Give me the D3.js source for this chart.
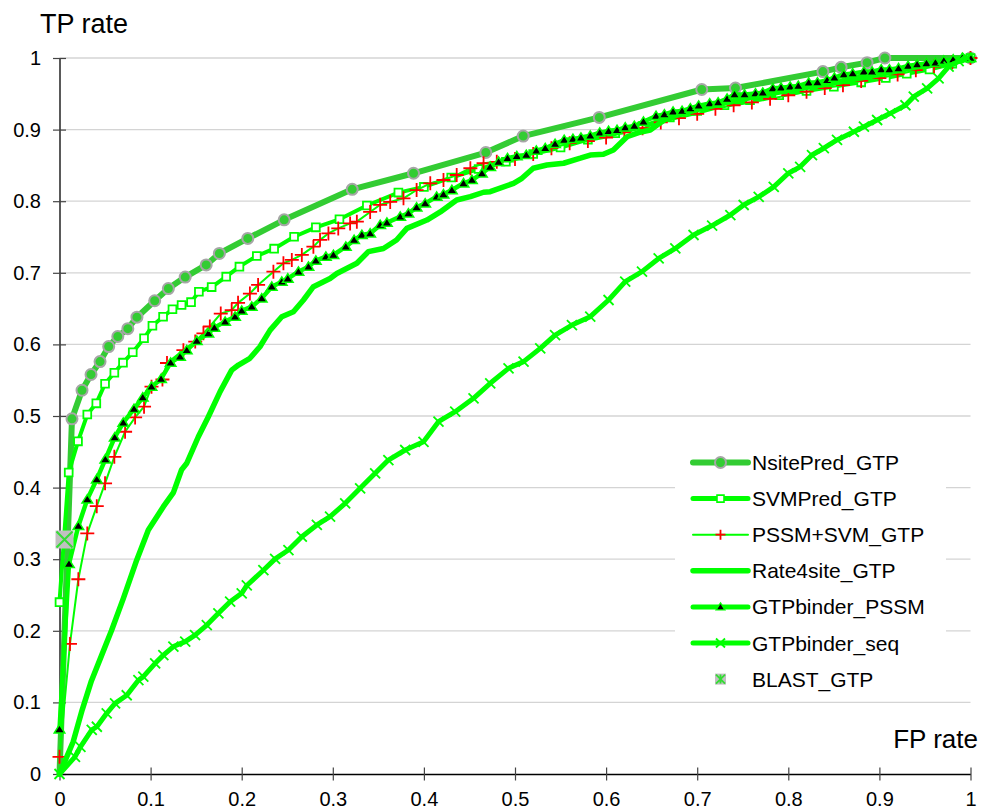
<!DOCTYPE html>
<html>
<head>
<meta charset="utf-8">
<script src="https://cdn.jsdelivr.net/npm/d3@7"></script>
<style>
  html, body { margin: 0; padding: 0; background: #fff; }
  svg { display: block; font-family: "Liberation Sans", Arial, sans-serif; }
</style>
</head>
<body>
<svg id="chart" width="987" height="809"></svg>
<script>
// ---------------- DATA ----------------
const xTickValues = [0, 0.1, 0.2, 0.3, 0.4, 0.5, 0.6, 0.7, 0.8, 0.9, 1];
const xTickLabels = ["0", "0.1", "0.2", "0.3", "0.4", "0.5", "0.6", "0.7", "0.8", "0.9", "1"];
const yTickValues = [0, 0.1, 0.2, 0.3, 0.4, 0.5, 0.6, 0.7, 0.8, 0.9, 1];
const yTickLabels = ["0", "0.1", "0.2", "0.3", "0.4", "0.5", "0.6", "0.7", "0.8", "0.9", "1"];

const seriesNames = ["NsitePred_GTP", "SVMPred_GTP", "PSSM+SVM_GTP", "Rate4site_GTP",
                     "GTPbinder_PSSM", "GTPbinder_seq", "BLAST_GTP"];

const nsitePred = [[0,0],[0.0137,0.496],[0.0247,0.536],[0.0346,0.558],[0.0445,0.576],[0.054,0.597],
  [0.064,0.611],[0.075,0.622],[0.085,0.638],[0.1045,0.661],[0.1195,0.678],[0.138,0.694],[0.161,0.711],
  [0.1755,0.727],[0.2067,0.748],[0.2466,0.774],[0.3213,0.8166],[0.3886,0.839],[0.468,0.868],
  [0.509,0.891],[0.5925,0.917],[0.705,0.956],[0.742,0.958],[0.838,0.981],[0.858,0.987],
  [0.8865,0.9935],[0.906,1.0],[1.0,1.0]];

const svmPred = [[0,0.240],[0.0101,0.421],[0.0203,0.4646],[0.0305,0.502],[0.0404,0.5177],[0.050,0.545],
  [0.0602,0.5605],[0.0697,0.5745],[0.0804,0.589],[0.0928,0.6085],[0.102,0.626],[0.1137,0.6387],
  [0.124,0.649],[0.134,0.655],[0.1444,0.659],[0.153,0.6736],[0.167,0.680],[0.183,0.6946],
  [0.1975,0.7086],[0.2166,0.7235],[0.2356,0.7337],[0.2575,0.7504],[0.2814,0.7635],[0.3073,0.7747],
  [0.3374,0.794],[0.372,0.812],[0.40,0.82],[0.43,0.833],[0.46,0.845],[0.49,0.855],[0.52,0.866],
  [0.55,0.875],[0.58,0.886],[0.61,0.895],[0.64,0.905],[0.67,0.917],[0.70,0.926],[0.73,0.934],
  [0.758,0.941],[0.79,0.948],[0.82,0.954],[0.85,0.960],[0.88,0.966],[0.907,0.972],[0.93,0.978],
  [0.955,0.984],[0.98,0.992],[1,1]];

const pssmSvm = [[0,0.024],[0.0115,0.1816],[0.0207,0.272],[0.0305,0.336],[0.0409,0.374],[0.05,0.406],
  [0.0602,0.443],[0.072,0.478],[0.083,0.498],[0.0928,0.513],[0.101,0.541],[0.113,0.551],[0.118,0.574],
  [0.136,0.592],[0.149,0.604],[0.158,0.6155],[0.165,0.625],[0.177,0.643],[0.189,0.648],[0.196,0.658],
  [0.209,0.671],[0.218,0.683],[0.2348,0.7016],[0.2458,0.7133],[0.255,0.718],[0.266,0.725],
  [0.2787,0.7365],[0.286,0.746],[0.2952,0.755],[0.306,0.762],[0.319,0.769],[0.3264,0.7714],
  [0.341,0.785],[0.352,0.795],[0.363,0.799],[0.3776,0.804],[0.392,0.8156],[0.407,0.825],
  [0.4215,0.8296],[0.436,0.8366],[0.451,0.846],[0.4655,0.853],[0.48,0.855],[0.50,0.859],
  [0.52,0.866],[0.54,0.874],[0.56,0.881],[0.58,0.884],[0.60,0.889],[0.62,0.896],[0.64,0.902],
  [0.66,0.910],[0.68,0.916],[0.70,0.922],[0.72,0.929],[0.74,0.934],[0.76,0.938],[0.78,0.943],
  [0.80,0.948],[0.82,0.953],[0.84,0.958],[0.86,0.962],[0.88,0.968],[0.90,0.972],[0.92,0.977],
  [0.94,0.983],[0.96,0.988],[0.98,0.994],[1,1]];

const rate4site = [[0,0],[0.015,0.045],[0.025,0.09],[0.035,0.13],[0.046,0.165],[0.057,0.2],
  [0.070,0.245],[0.0848,0.299],[0.0975,0.3408],[0.114,0.3733],
  [0.125,0.393],[0.134,0.425],[0.1397,0.434],[0.1524,0.471],[0.1634,0.499],[0.1763,0.534],
  [0.189,0.564],[0.1964,0.5712],[0.209,0.5806],[0.220,0.5968],[0.2312,0.620],[0.244,0.6387],
  [0.2568,0.6457],[0.2678,0.662],[0.2787,0.6806],[0.297,0.692],[0.3044,0.699],[0.3264,0.7133],
  [0.339,0.7295],[0.3556,0.734],[0.370,0.7458],[0.3813,0.762],[0.4033,0.7737],[0.418,0.785],
  [0.436,0.8017],[0.451,0.8063],[0.4655,0.8125],[0.4728,0.8133],[0.4984,0.825],[0.5076,0.832],
  [0.520,0.846],[0.535,0.8505],[0.5533,0.853],[0.5717,0.860],[0.5826,0.8645],[0.597,0.8655],
  [0.608,0.8715],[0.623,0.890],[0.6357,0.8957],[0.6485,0.8994],[0.656,0.9064],[0.6669,0.9158],
  [0.68,0.921],[0.70,0.928],[0.73,0.937],[0.76,0.945],[0.80,0.955],[0.85,0.965],[0.90,0.977],
  [0.95,0.99],[1,1]];

const gtpPssm = [[0,0.0624],[0.0104,0.2933],[0.0207,0.3464],[0.0305,0.3836],[0.0409,0.4116],
  [0.0503,0.4395],[0.0606,0.470],[0.070,0.4907],[0.0818,0.510],[0.0914,0.526],[0.101,0.541],
  [0.1115,0.5517],[0.122,0.5745],[0.1323,0.583],[0.1397,0.592],[0.1507,0.605],[0.1634,0.6155],
  [0.170,0.6234],[0.1818,0.6318],[0.1927,0.6387],[0.200,0.647],[0.211,0.6527],[0.222,0.6643],
  [0.233,0.6806],[0.244,0.6876],[0.2506,0.692],[0.2623,0.7016],[0.2733,0.7086],[0.2814,0.717],
  [0.2924,0.7225],[0.3007,0.7249],[0.3143,0.7365],[0.3234,0.7458],[0.3319,0.753],[0.341,0.755],
  [0.352,0.7668],[0.3594,0.770],[0.374,0.7784],[0.383,0.783],[0.392,0.7914],[0.4014,0.797],
  [0.414,0.8063],[0.4215,0.8096],[0.4307,0.8156],[0.4435,0.825],[0.4527,0.8296],[0.4637,0.8388],
  [0.4728,0.848],[0.482,0.855],[0.4918,0.86],[0.502,0.863],[0.5124,0.8645],[0.5234,0.8706],
  [0.5332,0.874],[0.544,0.880],[0.554,0.8855],[0.5636,0.887],[0.5724,0.8887],[0.5826,0.8915],
  [0.593,0.8957],[0.6027,0.898],[0.612,0.8994],[0.621,0.903],[0.631,0.905],[0.641,0.911],
  [0.6548,0.919],[0.664,0.9213],[0.6735,0.925],[0.6834,0.926],[0.6925,0.9297],[0.7016,0.9334],
  [0.7137,0.9366],[0.723,0.938],[0.7328,0.943],[0.741,0.949],[0.752,0.949],[0.764,0.9506],
  [0.772,0.9516],[0.783,0.9576],[0.792,0.9585],[0.802,0.960],[0.811,0.961],[0.8224,0.9655],
  [0.832,0.966],[0.8426,0.969],[0.8506,0.9725],[0.861,0.977],[0.8707,0.9785],[0.883,0.981],
  [0.892,0.981],[0.902,0.984],[0.911,0.984],[0.921,0.9856],[0.9315,0.989],[0.9414,0.991],
  [0.9517,0.9925],[0.9615,0.9935],[0.9707,0.9963],[0.981,0.998],[0.991,1.0],[1,1]];

const gtpSeq = [[0,0],[0.017,0.024],[0.023,0.038],[0.0354,0.0615],[0.041,0.066],[0.0518,0.0848],
  [0.061,0.0987],[0.0738,0.110],[0.0866,0.131],[0.092,0.136],[0.105,0.1546],[0.114,0.166],
  [0.125,0.178],[0.138,0.1848],[0.1488,0.194],[0.1617,0.208],[0.1744,0.2244],[0.1873,0.2406],
  [0.200,0.2524],[0.2056,0.2633],[0.2238,0.2846],[0.2367,0.3005],[0.2513,0.3128],[0.266,0.3314],
  [0.2825,0.3478],[0.297,0.3594],[0.3136,0.378],[0.33,0.399],[0.3465,0.42],[0.361,0.4385],
  [0.3795,0.4525],[0.3996,0.464],[0.416,0.492],[0.4344,0.506],[0.4545,0.5247],[0.4728,0.5457],
  [0.4929,0.5666],[0.5094,0.5759],[0.5277,0.5945],[0.544,0.613],[0.5625,0.627],[0.5826,0.6387],
  [0.6027,0.662],[0.621,0.6876],[0.6394,0.7016],[0.6577,0.720],[0.676,0.734],[0.696,0.7528],
  [0.7164,0.766],[0.7364,0.7807],[0.751,0.7947],[0.7675,0.806],[0.784,0.820],[0.800,0.839],
  [0.813,0.848],[0.826,0.8645],[0.839,0.874],[0.8535,0.8855],[0.872,0.897],[0.883,0.904],
  [0.8975,0.9134],[0.912,0.9227],[0.9286,0.934],[0.9377,0.946],[0.9524,0.9576],[0.965,0.9716],
  [0.976,0.988],[0.987,0.9955],[0.9963,1.0]];

const blast = [[0.0055,0.3275]];

// ---------------- CHART ----------------
const svg = d3.select("#chart");
const x = d3.scaleLinear().domain([0, 1]).range([59.5, 970.5]);
const y = d3.scaleLinear().domain([0, 1]).range([774, 58]);

const GREEN = "#00ff00";
const NGREEN = "#33cc33";

// gridlines
svg.append("g").selectAll("line").data(yTickValues.filter(v => v > 0)).join("line")
  .attr("x1", x(0)).attr("x2", x(1))
  .attr("y1", d => y(d)).attr("y2", d => y(d))
  .attr("stroke", "#d4d4d4").attr("stroke-width", 1.3);

// legend background (hides gridlines)
const legend = { x0: 675, y0: 441, w: 271, h: 256, x1: 693, x2: 748, tx: 752, cy0: 462.5, step: 36.1 };
svg.append("rect").attr("x", legend.x0).attr("y", legend.y0)
  .attr("width", legend.w).attr("height", legend.h).attr("fill", "#fff");

// axes
const yAxis = d3.axisLeft(y).tickValues(yTickValues)
  .tickFormat((d, i) => yTickLabels[i]).tickSizeInner(6.5).tickSizeOuter(0).tickPadding(12);
const gy = svg.append("g").attr("transform", `translate(${x(0)},0)`).call(yAxis);
gy.selectAll(".tick line").attr("x1", 6.5);
const xAxis = d3.axisBottom(x).tickValues(xTickValues)
  .tickFormat((d, i) => xTickLabels[i]).tickSizeInner(6.5).tickSizeOuter(0).tickPadding(11.5);
const gx = svg.append("g").attr("transform", `translate(0,${y(0)})`).call(xAxis);
gx.selectAll(".tick line").attr("y1", -6.5);
[gx, gy].forEach(g => {
  g.select(".domain").attr("stroke", "#000").attr("stroke-width", 1.3);
  g.selectAll(".tick line").attr("stroke", "#444").attr("stroke-width", 1.2);
  g.selectAll(".tick text").attr("font-size", 20).attr("fill", "#000")
    .attr("font-family", "'Liberation Sans', Arial, sans-serif");
});

// axis titles
svg.append("text").attr("x", 40).attr("y", 33).attr("font-size", 27).text("TP rate");
svg.append("text").attr("x", 978).attr("y", 748).attr("font-size", 26)
  .attr("text-anchor", "end").text("FP rate");

// marker path builders
const mk = {
  square: s => `M${-s},${-s}H${s}V${s}H${-s}Z`,
  plus: s => `M${-s},0H${s}M0,${-s}V${s}`,
  tri: s => `M0,${-s}L${s*1.1},${s*0.75}H${-s*1.1}Z`,
  xmark: s => `M${-s},${-s}L${s},${s}M${-s},${s}L${s},${-s}`,
  ast: s => `M${-s},${-s}L${s},${s}M${-s},${s}L${s},${-s}M0,${-s}V${s}`
};

const line = d3.line().x(d => x(d[0])).y(d => y(d[1]));

function drawLine(data, color, width) {
  svg.append("path").datum(data).attr("d", line)
    .attr("fill", "none").attr("stroke", color).attr("stroke-width", width)
    .attr("stroke-linejoin", "round").attr("stroke-linecap", "round");
}

// NsitePred
drawLine(nsitePred, NGREEN, 6);
svg.append("g").selectAll("circle").data(nsitePred.slice(1)).join("circle")
  .attr("cx", d => x(d[0])).attr("cy", d => y(d[1])).attr("r", 5.5)
  .attr("fill", NGREEN).attr("stroke", "#a6a6a6").attr("stroke-width", 2);

// SVMPred
drawLine(svmPred, GREEN, 4);
svg.append("g").selectAll("path").data(svmPred).join("path")
  .attr("transform", d => `translate(${x(d[0])},${y(d[1])})`).attr("d", mk.square(3.9))
  .attr("fill", "#fff").attr("stroke", GREEN).attr("stroke-width", 1.8);

// PSSM+SVM
drawLine(pssmSvm, GREEN, 2);
svg.append("g").selectAll("path").data(pssmSvm).join("path")
  .attr("transform", d => `translate(${x(d[0])},${y(d[1])})`).attr("d", mk.plus(7))
  .attr("fill", "none").attr("stroke", "#ff0000").attr("stroke-width", 1.8);

// Rate4site
drawLine(rate4site, GREEN, 5.5);

// GTPbinder_PSSM
drawLine(gtpPssm, GREEN, 4.5);
svg.append("g").selectAll("path").data(gtpPssm).join("path")
  .attr("transform", d => `translate(${x(d[0])},${y(d[1])})`).attr("d", mk.tri(4.8))
  .attr("fill", "#000").attr("stroke", GREEN).attr("stroke-width", 1.5);

// GTPbinder_seq
drawLine(gtpSeq, GREEN, 5);
svg.append("g").selectAll("path").data(gtpSeq).join("path")
  .attr("transform", d => `translate(${x(d[0])},${y(d[1])})`).attr("d", mk.xmark(5))
  .attr("fill", "none").attr("stroke", GREEN).attr("stroke-width", 1.8);

// BLAST
const bg = svg.append("g").selectAll("g").data(blast).join("g")
  .attr("transform", d => `translate(${x(d[0])},${y(d[1])})`);
bg.append("path").attr("d", mk.square(9)).attr("fill", "#c0c0c0");
bg.append("path").attr("d", mk.xmark(8)).attr("stroke", "#33dd33").attr("stroke-width", 2).attr("fill", "none");

// ---------------- LEGEND ----------------
const legendStyles = [
  { lc: NGREEN, lw: 6, m: "circle" },
  { lc: GREEN, lw: 5, m: "square" },
  { lc: GREEN, lw: 2, m: "plus" },
  { lc: GREEN, lw: 5.5, m: null },
  { lc: GREEN, lw: 5, m: "tri" },
  { lc: GREEN, lw: 5, m: "xmark" },
  { lc: null, lw: 0, m: "blast" }
];
const lg = svg.append("g");
seriesNames.forEach((name, i) => {
  const cy = legend.cy0 + i * legend.step;
  const st = legendStyles[i];
  const cx = (legend.x1 + legend.x2) / 2;
  if (st.lc) lg.append("line").attr("x1", legend.x1).attr("x2", legend.x2)
    .attr("y1", cy).attr("y2", cy).attr("stroke", st.lc).attr("stroke-width", st.lw)
    .attr("stroke-linecap", "round");
  const g = lg.append("g").attr("transform", `translate(${cx},${cy})`);
  if (st.m === "circle") g.append("circle").attr("r", 5.5).attr("fill", NGREEN).attr("stroke", "#a6a6a6").attr("stroke-width", 2);
  if (st.m === "square") g.append("path").attr("d", mk.square(3.5)).attr("fill", "#fff").attr("stroke", GREEN).attr("stroke-width", 1.6);
  if (st.m === "plus") g.append("path").attr("d", mk.plus(5)).attr("stroke", "#ff0000").attr("stroke-width", 1.8);
  if (st.m === "tri") g.append("path").attr("d", mk.tri(4)).attr("fill", "#000").attr("stroke", GREEN).attr("stroke-width", 1.3);
  if (st.m === "xmark") g.append("path").attr("d", mk.xmark(4.5)).attr("stroke", GREEN).attr("stroke-width", 1.8);
  if (st.m === "blast") {
    g.append("path").attr("d", mk.square(5.5)).attr("fill", "#c0c0c0");
    g.append("path").attr("d", mk.ast(4.5)).attr("stroke", "#33dd33").attr("stroke-width", 1.8).attr("fill", "none");
  }
  lg.append("text").attr("x", legend.tx).attr("y", cy).attr("dy", "0.36em")
    .attr("font-size", 21).attr("fill", "#000").text(name);
});
</script>
</body>
</html>
